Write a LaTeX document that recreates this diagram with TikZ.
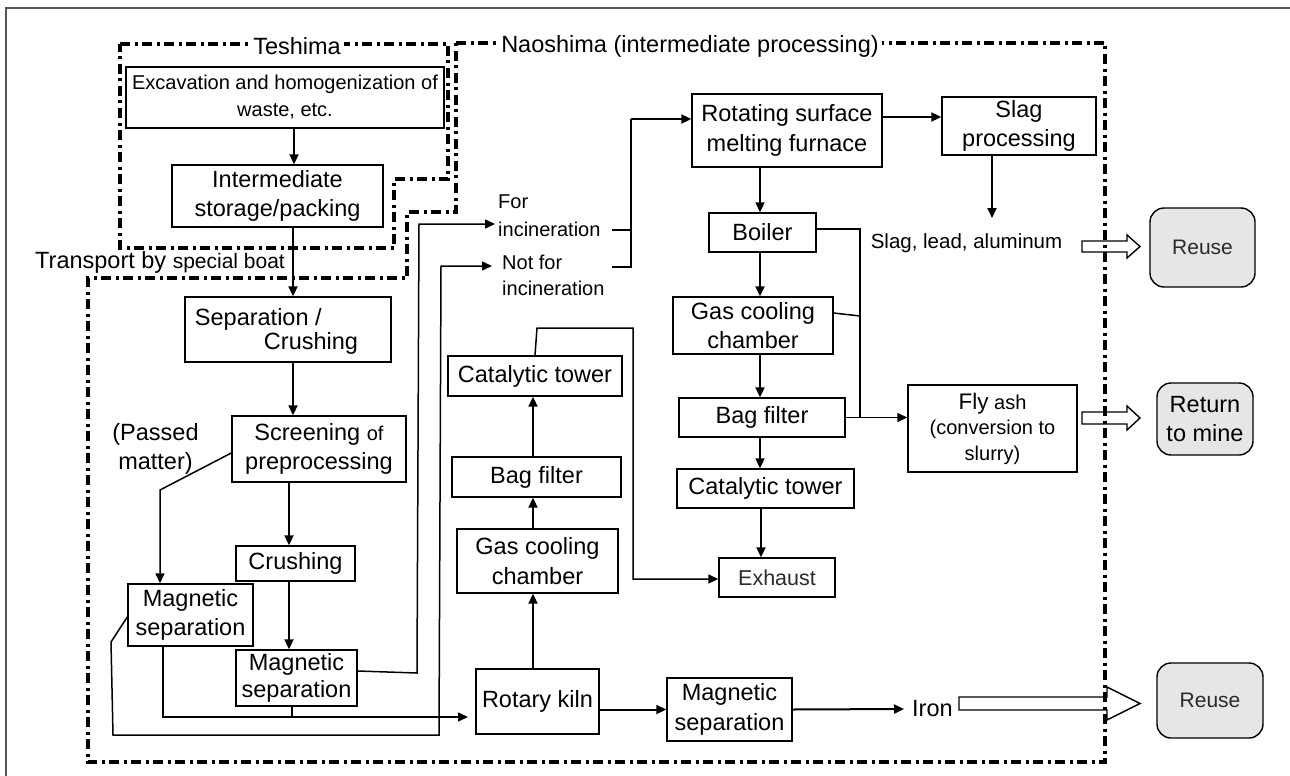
\documentclass[tikz,border=0pt]{standalone}
\usepackage{fontspec}
\setmainfont{Liberation Sans}
\usetikzlibrary{arrows.meta}
\newcommand\fbig{\fontsize{23.5}{29.5}\selectfont}
\newcommand\fsml{\fontsize{20}{27}\selectfont}
\definecolor{boxgray}{HTML}{E6E6E6}
\definecolor{framegray}{HTML}{555555}
\definecolor{txtgray}{HTML}{2A2A2A}
\begin{document}
\begin{tikzpicture}[x=1pt,y=-1pt,
  box/.style={draw,line width=1.4pt,inner sep=1pt,align=center,font=\fbig},
  rbox/.style={box,fill=boxgray,rounded corners=14pt},
  lbl/.style={inner sep=0pt,align=center,font=\fbig},
  arr/.style={line width=2pt,-{Triangle[length=10pt,width=9pt]}},
  tarr/.style={line width=1.5pt,-{Triangle[length=10pt,width=9pt]}},
  conn/.style={line width=1.5pt},
  dd/.style={line width=3.2pt,dash pattern=on 10pt off 4.5pt on 3pt off 4.5pt},
  hollow/.style={line width=1.4pt,line join=miter}]
\useasboundingbox (0,0) rectangle (1290,776);
% outer frame
\draw[framegray,line width=1.2pt] (6,776) -- (6,8) -- (1290,8);
% region borders
\draw[dd] (120,44) -- (448,44) -- (448,179) -- (394,179) -- (394,248) -- (120,248) -- cycle;
\draw[dd] (456,43) -- (1105,43) -- (1105,762) -- (88,762) -- (88,278) -- (407,278) -- (407,212) -- (456,212) -- cycle;
\node[lbl,fill=white,inner xsep=3pt,inner ysep=2pt] (tesh) at (297,46) {Teshima};
\node[lbl,fill=white,inner xsep=3pt,inner ysep=2pt] (nao) at (690,46) {Naoshima (intermediate processing)};
\node[lbl,anchor=west] (trans) at (35,262) {Transport by {\fontsize{21}{21}\selectfont special boat}};

% boxes
\node[box,font=\fsml,minimum width=318,minimum height=61] (exc) at (285,97.5) {Excavation and homogenization of\\waste, etc.};
\node[box,minimum width=211,minimum height=62] (ism) at (277.5,196) {Intermediate\\storage/packing};
\node[box,minimum width=206,minimum height=65] (sep) at (288,329.5) {};
\node[lbl,align=left,font=\fontsize{23.5}{24}\selectfont] (septxt) at (276.5,331.5) {Separation /\\\hspace*{69pt}Crushing};
\node[box,minimum width=174,minimum height=66] (scr) at (319,449) {Screening {\fsml of}\\preprocessing};
\node[box,minimum width=119,minimum height=35] (cru) at (295.5,563.5) {Crushing};
\node[box,minimum width=125,minimum height=62] (mag1) at (190.5,615) {Magnetic\\separation};
\node[box,minimum width=121,minimum height=56,font=\fontsize{23.5}{27}\selectfont] (mag2) at (296.5,678) {Magnetic\\separation};
\node[box,minimum width=123,minimum height=65] (kiln) at (537.5,701.5) {Rotary kiln};
\node[box,minimum width=125,minimum height=63] (mag3) at (729.5,709.5) {Magnetic\\separation};
\node[box,minimum width=161,minimum height=64] (gcl) at (537.5,561) {Gas cooling\\chamber};
\node[box,minimum width=169,minimum height=40] (bfl) at (536.5,477) {Bag filter};
\node[box,minimum width=174,minimum height=40] (ctl) at (535,376) {Catalytic tower};
\node[box,minimum width=116,minimum height=39,font=\fontsize{21.5}{26}\selectfont,text=txtgray] (exh) at (777,577.5) {Exhaust};
\node[box,minimum width=190,minimum height=73] (rsmf) at (787,130.5) {Rotating surface\\melting furnace};
\node[box,minimum width=154,minimum height=58] (slag) at (1019,126) {Slag\\processing};
\node[box,minimum width=107,minimum height=39] (boil) at (762.5,232.5) {Boiler};
\node[box,minimum width=160,minimum height=57] (gcr) at (753,325.5) {Gas cooling\\chamber};
\node[box,minimum width=166,minimum height=39] (bfr) at (762,417.5) {Bag filter};
\node[box,minimum width=177,minimum height=39] (ctr) at (765.5,488.5) {Catalytic tower};
\node[box,font=\fontsize{20}{25.5}\selectfont,minimum width=169,minimum height=87] (fly) at (992.5,428.5) {{\fontsize{22.5}{25.5}\selectfont Fly} ash\\(conversion to\\slurry)};
\node[rbox,font=\fontsize{21}{26}\selectfont,text=txtgray,minimum width=105,minimum height=79] (reuse1) at (1202.5,247.5) {Reuse};
\node[rbox,minimum width=96,minimum height=72] (ret) at (1205,419) {Return\\to mine};
\node[rbox,font=\fontsize{21}{26}\selectfont,text=txtgray,minimum width=106,minimum height=75] (reuse2) at (1210,700.5) {Reuse};

% free labels
\node[lbl] (passed) at (155.5,449) {(Passed\\matter)};
\node[lbl,align=left,anchor=west,font=\fontsize{20}{28}\selectfont] (forinc) at (498,216) {For\\incineration};
\node[lbl,align=left,anchor=west,font=\fontsize{20}{26}\selectfont] (notinc) at (502,275) {Not for\\incineration};
\node[lbl,font=\fontsize{20.5}{24}\selectfont] (sla) at (966.5,243) {Slag, lead, aluminum};
\node[lbl,anchor=west] (iron) at (912,709) {Iron};

% coordinates
\coordinate (nfin) at (492,266);
\coordinate (fin) at (495,224);
\coordinate (kin) at (468,717);
\coordinate (finc) at (612,230);
\coordinate (fnot) at (612,267);
\coordinate (cj) at (631,119);
\coordinate (slagend) at (992,218);

% main column arrows
\draw[arr] ([xshift=9pt]exc.south) -- ([xshift=16.5pt]ism.north);
\draw[arr] ([xshift=15.5pt]ism.south) -- ([xshift=5pt]sep.north);
\draw[arr] ([xshift=5pt]sep.south) -- ([xshift=-26pt]scr.north);
\draw[arr] ([xshift=-30pt]scr.south) -- ([xshift=-6.5pt]cru.north);
\draw[arr] ([xshift=-6.5pt]cru.south) -- ([xshift=-7.5pt]mag2.north);
\draw[tarr] ([yshift=-4pt]scr.west) -- (160,490) -- ([xshift=-30.5pt]mag1.north);
\draw[tarr] ([yshift=-2pt]mag1.west) -- (111,642) -- (113,735) -- (439,735) -- (441,266) -- (nfin);
\draw[tarr] ([yshift=7pt]mag2.east) -- (417,673) -- (419,224) -- (fin);
\draw[tarr] ([xshift=-27.5pt]mag1.south) -- (163,717) -- (kin);
\draw[conn] ([xshift=-4.5pt]mag2.south) -- (292,717);
\draw[arr] (kiln.east |- mag3.west) -- (mag3.west);
\draw[arr] (mag3.east) -- ([xshift=-8pt]iron.west);

% left exhaust column
\draw[arr] ([xshift=-4.5pt]kiln.north) -- ([xshift=-4.5pt]gcl.south);
\draw[arr] ([xshift=-4.5pt]gcl.north) -- ([xshift=-3.5pt]bfl.south);
\draw[arr] ([xshift=-3.5pt]bfl.north) -- ([xshift=-2pt]ctl.south);
\draw[tarr] (ctl.north) -- (537,328) -- (633,328) -- (633,579) -- ([yshift=-1.5pt]exh.west);

% incineration branch
\draw[conn] (finc) -- (631,230);
\draw[conn] (fnot) -- (631,267) -- (cj);
\draw[arr] (cj) -- ([yshift=11.5pt]rsmf.west);
\draw[arr] ([yshift=13.5pt]rsmf.east) -- ([yshift=9pt]slag.west);
\draw[arr] ([xshift=-27pt]slag.south) -- (slagend);

% right column
\draw[arr] ([xshift=-27pt]rsmf.south) -- ([xshift=-2.5pt]boil.north);
\draw[arr] ([xshift=-2.5pt]boil.south) -- ([xshift=7pt]gcr.north);
\draw[arr] ([xshift=7pt]gcr.south) -- ([xshift=-2pt]bfr.north);
\draw[arr] ([xshift=-2pt]bfr.south) -- ([xshift=-5.5pt]ctr.north);
\draw[arr] ([xshift=-4.5pt]ctr.south) -- ([xshift=-16pt]exh.north);
\draw[conn] ([yshift=3.5pt]boil.east) -- (860,229) -- (860,418);
\draw[conn] ([yshift=12.5pt]gcr.east) -- (860,316);
\draw[tarr] (bfr.east) -- (bfr.east -| fly.west);

% hollow arrows
\draw[hollow] (1082,241) -- (1127,241) -- (1127,235) -- (1140,246.5) -- (1127,258) -- (1127,252) -- (1082,252) -- cycle;
\draw[hollow] (1082,412) -- (1127,412) -- (1127,406) -- (1140,418) -- (1127,430) -- (1127,424) -- (1082,424) -- cycle;
\draw[hollow] (959,697) -- (1107,697) -- (1107,687) -- (1140,703.5) -- (1107,720) -- (1107,710) -- (959,710) -- cycle;
\end{tikzpicture}
\end{document}
